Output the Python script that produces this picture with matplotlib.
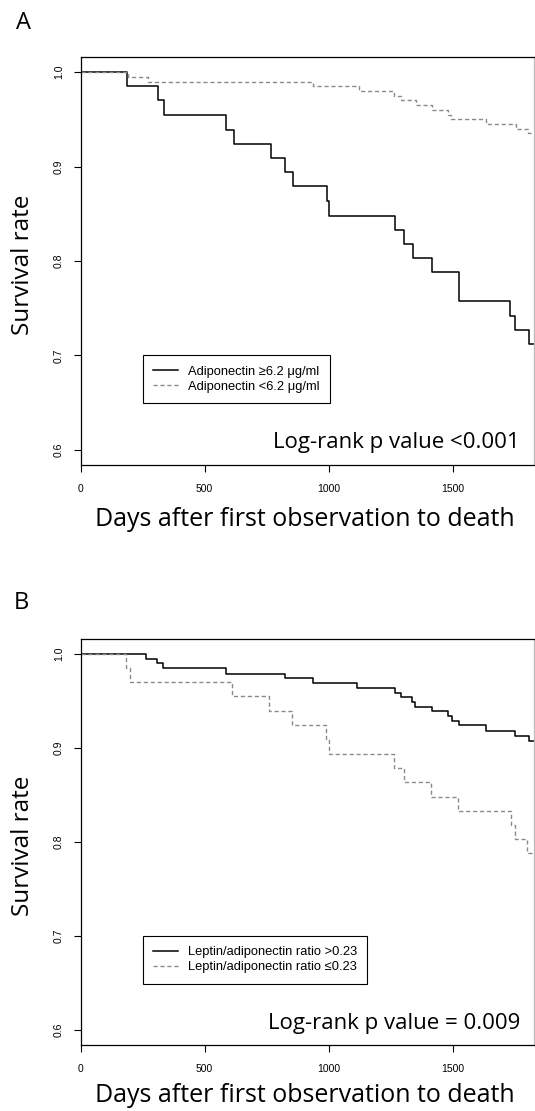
import matplotlib
matplotlib.use("Agg")
import matplotlib.pyplot as plt

# ---------------- DATA ----------------
# Panel A: adiponectin groups (days, survival)
a_high_days = [0, 187, 313, 335, 586, 618, 768, 823, 856, 992, 1001, 1267, 1304,
               1338, 1416, 1526, 1731, 1751, 1805, 1826]
a_high_surv = [1.0, 0.985, 0.970, 0.955, 0.939, 0.924, 0.909, 0.894, 0.879, 0.864,
               0.848, 0.833, 0.818, 0.803, 0.788, 0.758, 0.742, 0.727, 0.712, 0.712]
a_low_days = [0, 190, 270, 935, 1120, 1263, 1290, 1350, 1414, 1481, 1493, 1634,
              1755, 1803, 1826]
a_low_surv = [1.0, 0.995, 0.990, 0.985, 0.980, 0.975, 0.970, 0.965, 0.960, 0.955,
              0.950, 0.945, 0.940, 0.935, 0.935]

# Panel B: leptin/adiponectin ratio groups
b_high_days = [0, 265, 309, 331, 586, 823, 938, 1115, 1266, 1289, 1334, 1348, 1416,
               1481, 1496, 1523, 1632, 1750, 1806, 1826]
b_high_surv = [1.0, 0.995, 0.990, 0.985, 0.979, 0.974, 0.969, 0.964, 0.959, 0.954,
               0.949, 0.944, 0.939, 0.934, 0.929, 0.924, 0.918, 0.913, 0.908, 0.908]
b_low_days = [0, 183, 200, 611, 761, 850, 987, 1000, 1263, 1301, 1413, 1521, 1734,
              1751, 1798, 1826]
b_low_surv = [1.0, 0.985, 0.970, 0.955, 0.939, 0.924, 0.909, 0.894, 0.879, 0.864,
              0.848, 0.833, 0.818, 0.803, 0.788, 0.788]

x_ticks = [0, 500, 1000, 1500]
y_ticks = [0.6, 0.7, 0.8, 0.9, 1.0]

PANELS = [
    ("A", a_high_days, a_high_surv, a_low_days, a_low_surv,
     "Adiponectin \u22656.2 \u03bcg/ml", "Adiponectin <6.2 \u03bcg/ml",
     "Log-rank p value <0.001"),
    ("B", b_high_days, b_high_surv, b_low_days, b_low_surv,
     "Leptin/adiponectin ratio >0.23", "Leptin/adiponectin ratio \u22640.23",
     "Log-rank p value = 0.009"),
]

BIG_FONT = "Open Sans"
SMALL_FONT = "Liberation Sans"

# ---------------- FIGURE ----------------
W, H = 535, 1111
fig = plt.figure(figsize=(W / 100, H / 100), dpi=100)
fig.patch.set_facecolor("white")

# axes boxes in pixels: (left, top, right, bottom)
boxes = [(80.5, 57, 534, 465), (80.5, 639, 534, 1045)]
letter_pos = [(24, 23), (21, 603)]
xlabel_y = [519, 1095]

for (letter, hd, hs, ld, ls, lab_hi, lab_lo, ptxt), box, lp, xly in zip(
        PANELS, boxes, letter_pos, xlabel_y):
    l, t, r, b = box
    ax = fig.add_axes([l / W, 1 - b / H, (r - l) / W, (b - t) / H])

    ax.step(hd, hs, where="post", color="black", lw=1.1, label=lab_hi)
    ax.step(ld, ls, where="post", color="#8a8a8a", lw=1.0,
            linestyle=(0, (3, 2)), label=lab_lo)

    ax.set_xlim(0, 1826)
    ax.set_ylim(0.584, 1.016)
    ax.set_xticks(x_ticks)
    ax.set_yticks(y_ticks)
    ax.set_xticklabels([str(v) for v in x_ticks], fontsize=7.5, family=SMALL_FONT)
    ax.set_yticklabels([f"{v:.1f}" for v in y_ticks], fontsize=7.5,
                       family=SMALL_FONT, rotation=90, va="center")
    ax.tick_params(axis="x", length=5, width=0.8, pad=9)
    ax.tick_params(axis="y", length=5, width=0.8, pad=7)
    for sp in ax.spines.values():
        sp.set_linewidth(0.9)
    ax.spines["right"].set_color("#bbbbbb")

    leg = ax.legend(loc="upper left", bbox_to_anchor=(0.137, 0.269),
                    prop={"family": SMALL_FONT, "size": 9.3},
                    handlelength=1.9, fancybox=False, framealpha=1,
                    edgecolor="black", borderpad=0.8, labelspacing=0.25,
                    handletextpad=0.8, borderaxespad=0)
    leg.get_frame().set_linewidth(0.8)

    ax.text(0.969, 0.054, ptxt, transform=ax.transAxes, ha="right",
            va="center", fontsize=16, family=BIG_FONT)

    fig.text(lp[0] / W, 1 - lp[1] / H, letter, fontsize=17, family=BIG_FONT,
             ha="center", va="center")
    fig.text(23 / W, 1 - ((t + b) / 2 + 4) / H, "Survival rate", fontsize=17.5,
             family=BIG_FONT, rotation=90, ha="center", va="center")
    fig.text(305 / W, 1 - xly / H, "Days after first observation to death",
             fontsize=18, family=BIG_FONT, ha="center", va="center")

fig.savefig("out.png", dpi=100)
